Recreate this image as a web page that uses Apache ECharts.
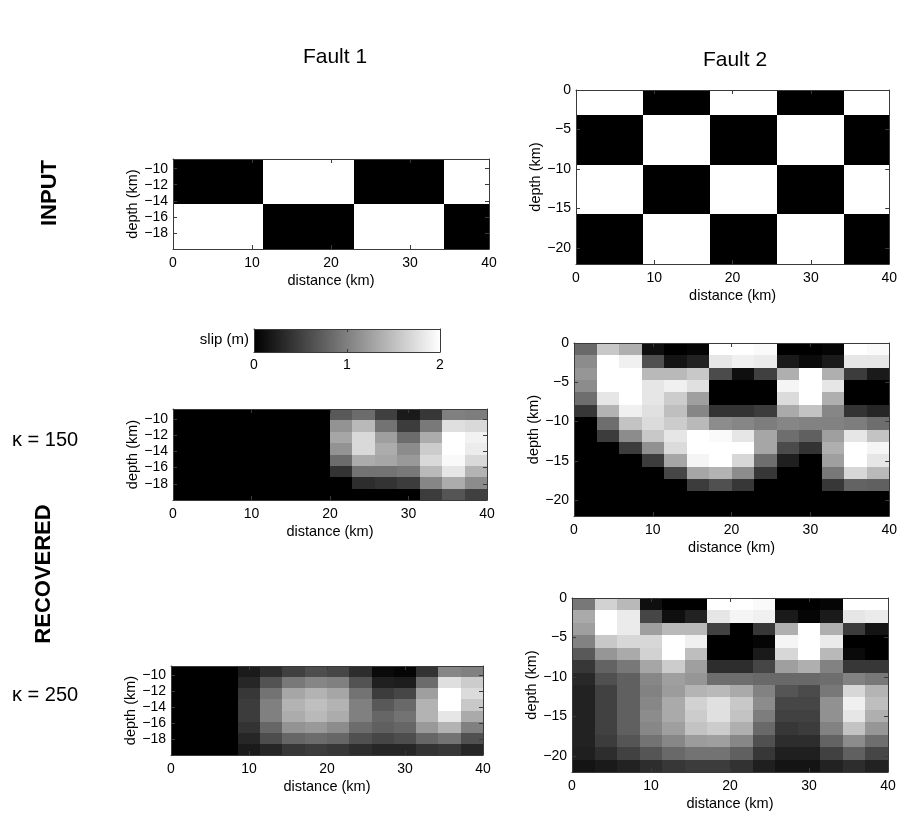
<!DOCTYPE html>
<html>
<head>
<meta charset="utf-8">
<script src="https://cdn.jsdelivr.net/npm/echarts@6/dist/echarts.min.js"></script>
<style>
  html, body { margin: 0; padding: 0; background: #fff; }
  #chart { width: 900px; height: 816px; }
</style>
</head>
<body>
<div id="chart"></div>
<script>
// ---- tick labels ----
const distanceTicks = [0, 10, 20, 30, 40];
const fault1DepthTicks = [-18, -16, -14, -12, -10];
const fault2DepthTicks = [-20, -15, -10, -5, 0];
const slipTicks = [0, 1, 2];
const slipRange = [0, 2];

// ---- fault geometry (km) ----
const faultLength = 40;
const fault1Depth = [-20, -8.8];   // bottom, top
const fault2Depth = [-22, 0];
const fault1Rows = 8, fault1Cols = 14;
const fault2Rows = 14, fault2Cols = 14;

// ---- slip (m), rows listed from the top edge downward ----
const fault1Input = [
  [0,0,0,0, 2,2,2,2, 0,0,0,0, 2,2],
  [0,0,0,0, 2,2,2,2, 0,0,0,0, 2,2],
  [0,0,0,0, 2,2,2,2, 0,0,0,0, 2,2],
  [0,0,0,0, 2,2,2,2, 0,0,0,0, 2,2],
  [2,2,2,2, 0,0,0,0, 2,2,2,2, 0,0],
  [2,2,2,2, 0,0,0,0, 2,2,2,2, 0,0],
  [2,2,2,2, 0,0,0,0, 2,2,2,2, 0,0],
  [2,2,2,2, 0,0,0,0, 2,2,2,2, 0,0]
];

const fault2Input = [
  [2,2,2, 0,0,0, 2,2,2, 0,0,0, 2,2],
  [2,2,2, 0,0,0, 2,2,2, 0,0,0, 2,2],
  [0,0,0, 2,2,2, 0,0,0, 2,2,2, 0,0],
  [0,0,0, 2,2,2, 0,0,0, 2,2,2, 0,0],
  [0,0,0, 2,2,2, 0,0,0, 2,2,2, 0,0],
  [0,0,0, 2,2,2, 0,0,0, 2,2,2, 0,0],
  [2,2,2, 0,0,0, 2,2,2, 0,0,0, 2,2],
  [2,2,2, 0,0,0, 2,2,2, 0,0,0, 2,2],
  [2,2,2, 0,0,0, 2,2,2, 0,0,0, 2,2],
  [2,2,2, 0,0,0, 2,2,2, 0,0,0, 2,2],
  [0,0,0, 2,2,2, 0,0,0, 2,2,2, 0,0],
  [0,0,0, 2,2,2, 0,0,0, 2,2,2, 0,0],
  [0,0,0, 2,2,2, 0,0,0, 2,2,2, 0,0],
  [0,0,0, 2,2,2, 0,0,0, 2,2,2, 0,0]
];

const fault1K150 = [
  [0,0,0,0,0,0,0, 0.70,0.85,0.50,0.20,0.43,1.00,0.98],
  [0,0,0,0,0,0,0, 1.15,1.45,0.90,0.47,0.95,1.75,1.70],
  [0,0,0,0,0,0,0, 1.30,1.70,1.25,0.85,1.35,2.00,1.90],
  [0,0,0,0,0,0,0, 1.15,1.70,1.35,1.10,1.60,2.00,1.85],
  [0,0,0,0,0,0,0, 0.85,1.35,1.30,1.20,1.70,1.95,1.70],
  [0,0,0,0,0,0,0, 0.40,0.90,0.90,0.95,1.45,1.80,1.40],
  [0,0,0,0,0,0,0, 0.00,0.35,0.40,0.47,1.05,1.35,1.10],
  [0,0,0,0,0,0,0, 0.00,0.00,0.00,0.00,0.47,0.67,0.50]
];

const fault1K250 = [
  [0,0,0, 0.20,0.35,0.50,0.60,0.55,0.35,0.08,0.04,0.40,1.05,1.00],
  [0,0,0, 0.30,0.65,0.95,1.05,1.00,0.65,0.25,0.23,0.85,1.75,1.60],
  [0,0,0, 0.43,0.90,1.30,1.40,1.30,0.90,0.47,0.55,1.25,2.00,1.72],
  [0,0,0, 0.47,1.00,1.40,1.50,1.40,1.00,0.70,0.82,1.40,2.00,1.57],
  [0,0,0, 0.47,1.00,1.35,1.45,1.35,1.00,0.80,0.90,1.40,1.80,1.33],
  [0,0,0, 0.40,0.80,1.15,1.20,1.10,0.85,0.75,0.80,1.20,1.40,1.00],
  [0,0,0, 0.30,0.60,0.80,0.85,0.80,0.63,0.55,0.60,0.80,0.90,0.63],
  [0,0,0, 0.20,0.30,0.43,0.47,0.43,0.35,0.30,0.30,0.40,0.43,0.30]
];

const fault2K150 = [
  [0.82,1.57,1.37,0.12,0.00,0.04,2.00,2.00,1.96,0.00,0.00,0.04,2.00,1.96],
  [1.10,2.00,1.88,0.63,0.16,0.27,1.80,1.88,1.84,0.20,0.08,0.20,1.80,1.80],
  [1.18,2.00,2.00,1.45,1.45,1.57,0.59,0.12,0.50,1.37,2.00,1.37,0.47,0.20],
  [1.10,2.00,2.00,1.80,1.88,1.76,0.00,0.00,0.00,1.92,2.00,1.80,0.00,0.00],
  [0.86,1.80,2.00,1.80,1.60,1.25,0.00,0.00,0.00,1.72,2.00,1.37,0.00,0.00],
  [0.43,1.40,1.88,1.76,1.50,1.05,0.40,0.40,0.47,1.33,1.53,1.05,0.40,0.30],
  [0.00,0.86,1.53,1.72,1.60,1.45,1.10,1.05,0.98,1.05,1.02,1.02,0.98,0.86],
  [0.00,0.47,1.10,1.57,1.80,2.00,1.96,1.80,1.30,0.86,0.75,1.25,1.80,1.53],
  [0.00,0.00,0.47,1.14,1.72,2.00,2.00,2.00,1.30,0.59,0.40,1.37,2.00,1.92],
  [0.00,0.00,0.00,0.47,1.30,1.92,2.00,1.69,0.86,0.24,0.00,1.25,2.00,1.80],
  [0.00,0.00,0.00,0.00,0.55,1.30,1.40,1.10,0.43,0.00,0.00,0.94,1.69,1.45],
  [0.00,0.00,0.00,0.00,0.00,0.47,0.63,0.43,0.00,0.00,0.00,0.43,0.78,0.75],
  [0,0,0,0,0,0,0,0,0,0,0,0,0,0],
  [0,0,0,0,0,0,0,0,0,0,0,0,0,0]
];

const fault2K250 = [
  [0.94,1.65,1.45,0.12,0.00,0.00,2.00,2.00,1.96,0.00,0.00,0.04,2.00,2.00],
  [1.33,2.00,1.84,0.55,0.12,0.27,1.80,1.92,1.88,0.20,0.04,0.20,1.80,1.84],
  [1.25,2.00,1.84,1.25,1.45,1.45,0.51,0.00,0.43,1.37,2.00,1.37,0.47,0.16],
  [1.02,1.57,1.69,1.69,2.00,1.88,0.00,0.00,0.04,1.92,2.00,1.84,0.00,0.00],
  [0.70,1.18,1.33,1.65,2.00,1.49,0.00,0.00,0.20,1.69,2.00,1.45,0.08,0.00],
  [0.43,0.78,0.94,1.30,1.60,1.25,0.35,0.35,0.55,1.25,1.37,1.02,0.43,0.43],
  [0.31,0.63,0.75,1.06,1.25,1.18,0.86,0.86,0.82,0.82,0.82,0.86,1.02,0.94],
  [0.27,0.51,0.75,1.02,1.22,1.41,1.45,1.33,1.02,0.67,0.59,0.94,1.69,1.41],
  [0.27,0.51,0.75,1.06,1.33,1.65,1.76,1.57,1.10,0.55,0.55,1.14,1.88,1.49],
  [0.27,0.51,0.75,1.10,1.33,1.60,1.76,1.53,0.98,0.51,0.51,1.14,1.80,1.37],
  [0.27,0.51,0.75,1.06,1.25,1.53,1.60,1.37,0.82,0.43,0.47,1.02,1.53,1.18],
  [0.27,0.47,0.67,0.90,1.06,1.22,1.25,1.06,0.63,0.35,0.35,0.78,1.10,0.86],
  [0.24,0.35,0.51,0.67,0.82,0.90,0.90,0.75,0.43,0.24,0.24,0.51,0.75,0.55],
  [0.16,0.20,0.27,0.35,0.43,0.47,0.47,0.39,0.24,0.16,0.16,0.27,0.35,0.27]
];

// ---- rendering ----
const FONT = '"Liberation Sans", Arial, Helvetica, sans-serif';
const AXIS_COLOR = '#3a3a3a';

// turn a slip grid into cell records [xCenter, yCenter, width, height, slip]
function toCells(grid, nCols, nRows, depthRange) {
  const w = faultLength / nCols;
  const h = (depthRange[1] - depthRange[0]) / nRows;
  const cells = [];
  for (let r = 0; r < nRows; r++) {
    for (let c = 0; c < nCols; c++) {
      cells.push([(c + 0.5) * w, depthRange[1] - (r + 0.5) * h, w, h, grid[r][c]]);
    }
  }
  return cells;
}

function grayOf(v) {
  const t = Math.max(0, Math.min(1, (v - slipRange[0]) / (slipRange[1] - slipRange[0])));
  const g = Math.round(t * 255);
  return 'rgb(' + g + ',' + g + ',' + g + ')';
}

function renderCell(params, api) {
  const x = api.value(0), y = api.value(1), w = api.value(2), h = api.value(3);
  const p0 = api.coord([x - w / 2, y + h / 2]);
  const p1 = api.coord([x + w / 2, y - h / 2]);
  const x0 = Math.round(p0[0]), y0 = Math.round(p0[1]);
  const x1 = Math.round(p1[0]), y1 = Math.round(p1[1]);
  return {
    type: 'rect',
    shape: { x: x0, y: y0, width: x1 - x0, height: y1 - y0 },
    style: { fill: grayOf(api.value(4)) }
  };
}

const minusFmt = v => (v < 0 ? '\u2212' + Math.abs(v) : String(v));

const panels = [
  { grid: { left: 173, top: 159, width: 316, height: 90 },  data: fault1Input, cols: fault1Cols, rows: fault1Rows, depth: fault1Depth, dTicks: fault1DepthTicks, yGap: 33 },
  { grid: { left: 576, top: 90,  width: 316, height: 174 }, data: fault2Input, cols: fault2Cols, rows: fault2Rows, depth: fault2Depth, dTicks: fault2DepthTicks, yGap: 30 },
  { grid: { left: 173, top: 409, width: 314, height: 91 },  data: fault1K150,  cols: fault1Cols, rows: fault1Rows, depth: fault1Depth, dTicks: fault1DepthTicks, yGap: 33 },
  { grid: { left: 574, top: 343, width: 316, height: 173 }, data: fault2K150,  cols: fault2Cols, rows: fault2Rows, depth: fault2Depth, dTicks: fault2DepthTicks, yGap: 30 },
  { grid: { left: 171, top: 666, width: 312, height: 89 },  data: fault1K250,  cols: fault1Cols, rows: fault1Rows, depth: fault1Depth, dTicks: fault1DepthTicks, yGap: 33 },
  { grid: { left: 572, top: 598, width: 316, height: 174 }, data: fault2K250,  cols: fault2Cols, rows: fault2Rows, depth: fault2Depth, dTicks: fault2DepthTicks, yGap: 30 }
];

const grids = [], xAxes = [], yAxes = [], series = [];
const lineStyle = { color: AXIS_COLOR, width: 1 };
const labelStyle = { color: '#000', fontSize: 14, fontFamily: FONT };
const nameStyle = { color: '#000', fontSize: 14.5, fontFamily: FONT };

panels.forEach((p, i) => {
  grids.push(Object.assign({ containLabel: false }, p.grid));
  xAxes.push({
    type: 'value', gridIndex: i, position: 'bottom', min: 0, max: faultLength, z: 5,
    axisLine: { show: true, onZero: false, lineStyle },
    axisTick: { show: true, inside: true, length: 4, customValues: distanceTicks, lineStyle },
    axisLabel: { show: true, customValues: distanceTicks, margin: 7, ...labelStyle },
    splitLine: { show: false },
    name: 'distance (km)', nameLocation: 'middle', nameGap: 24, nameTextStyle: nameStyle
  });
  xAxes.push({
    type: 'value', gridIndex: i, position: 'top', min: 0, max: faultLength, z: 5,
    axisLine: { show: true, onZero: false, lineStyle },
    axisTick: { show: true, inside: true, length: 4, customValues: distanceTicks, lineStyle },
    axisLabel: { show: false }, splitLine: { show: false }
  });
  yAxes.push({
    type: 'value', gridIndex: i, position: 'left', min: p.depth[0], max: p.depth[1], z: 5,
    axisLine: { show: true, onZero: false, lineStyle },
    axisTick: { show: true, inside: true, length: 4, customValues: p.dTicks, lineStyle },
    axisLabel: { show: true, customValues: p.dTicks, margin: 5, formatter: minusFmt, ...labelStyle },
    splitLine: { show: false },
    name: 'depth (km)', nameLocation: 'middle', nameGap: p.yGap, nameRotate: 90, nameTextStyle: nameStyle
  });
  yAxes.push({
    type: 'value', gridIndex: i, position: 'right', min: p.depth[0], max: p.depth[1], z: 5,
    axisLine: { show: true, onZero: false, lineStyle },
    axisTick: { show: true, inside: true, length: 4, customValues: p.dTicks, lineStyle },
    axisLabel: { show: false }, splitLine: { show: false }
  });
  series.push({
    type: 'custom', xAxisIndex: 2 * i, yAxisIndex: 2 * i,
    renderItem: renderCell, clip: true, silent: true,
    encode: { x: 0, y: 1 },
    data: toCells(p.data, p.cols, p.rows, p.depth)
  });
});

// colour bar for slip
const cbIndex = panels.length;
grids.push({ left: 254, top: 329, width: 186, height: 23 });
xAxes.push({
  type: 'value', gridIndex: cbIndex, position: 'bottom', min: slipRange[0], max: slipRange[1], z: 5,
  axisLine: { show: true, onZero: false, lineStyle },
  axisTick: { show: true, inside: true, length: 3, customValues: slipTicks, lineStyle },
  axisLabel: { show: true, customValues: slipTicks, margin: 6, ...labelStyle },
  splitLine: { show: false }
});
xAxes.push({
  type: 'value', gridIndex: cbIndex, position: 'top', min: slipRange[0], max: slipRange[1], z: 5,
  axisLine: { show: true, onZero: false, lineStyle },
  axisTick: { show: true, inside: true, length: 3, customValues: slipTicks, lineStyle },
  axisLabel: { show: false }, splitLine: { show: false }
});
yAxes.push({
  type: 'value', gridIndex: cbIndex, position: 'left', min: 0, max: 1, z: 5,
  axisLine: { show: true, onZero: false, lineStyle },
  axisTick: { show: false }, axisLabel: { show: false }, splitLine: { show: false }
});
yAxes.push({
  type: 'value', gridIndex: cbIndex, position: 'right', min: 0, max: 1, z: 5,
  axisLine: { show: true, onZero: false, lineStyle },
  axisTick: { show: false }, axisLabel: { show: false }, splitLine: { show: false }
});
series.push({
  type: 'custom', xAxisIndex: 2 * cbIndex, yAxisIndex: 2 * cbIndex, silent: true,
  data: [[slipRange[0], slipRange[1]]],
  renderItem: function (params, api) {
    const p0 = api.coord([api.value(0), 1]);
    const p1 = api.coord([api.value(1), 0]);
    return {
      type: 'rect',
      shape: { x: p0[0], y: p0[1], width: p1[0] - p0[0], height: p1[1] - p0[1] },
      style: {
        fill: new echarts.graphic.LinearGradient(0, 0, 1, 0, [
          { offset: 0, color: grayOf(slipRange[0]) },
          { offset: 1, color: grayOf(slipRange[1]) }
        ])
      }
    };
  }
});

const textEl = (text, x, y, opts) => ({
  type: 'text', x, y, rotation: opts.rotation || 0, silent: true,
  style: {
    text, fill: '#000', font: (opts.weight || 'normal') + ' ' + opts.size + 'px ' + FONT,
    textAlign: opts.align || 'center', textVerticalAlign: 'middle'
  }
});

const chart = echarts.init(document.getElementById('chart'), null, { renderer: 'canvas' });
chart.setOption({
  animation: false,
  backgroundColor: '#fff',
  grid: grids,
  xAxis: xAxes,
  yAxis: yAxes,
  series: series,
  graphic: [
    textEl('Fault 1', 335, 57, { size: 21 }),
    textEl('Fault 2', 735, 60, { size: 21 }),
    textEl('INPUT', 50, 193, { size: 22, weight: 'bold', rotation: Math.PI / 2 }),
    textEl('RECOVERED', 44, 574, { size: 22, weight: 'bold', rotation: Math.PI / 2 }),
    textEl('\u03BA = 150', 12, 440, { size: 20, align: 'left' }),
    textEl('\u03BA = 250', 12, 695, { size: 20, align: 'left' }),
    textEl('slip (m)', 249, 340, { size: 15, align: 'right' })
  ]
});
</script>
</body>
</html>
